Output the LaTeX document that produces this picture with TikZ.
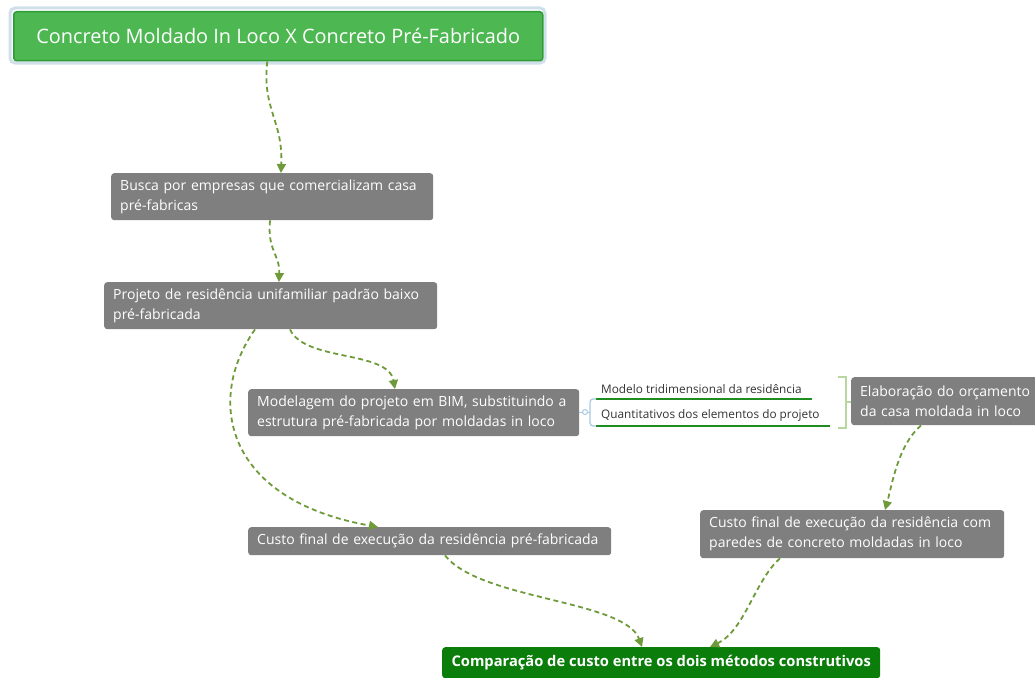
\documentclass[tikz,border=0pt]{standalone}
\usepackage{fontspec}
\setmainfont{Open Sans}
\usetikzlibrary{arrows.meta}
\definecolor{boxgray}{HTML}{7F7F7F}
\definecolor{titlegreen}{HTML}{4DB851}
\definecolor{titleborder}{HTML}{2F9B37}
\definecolor{glow}{HTML}{CFE0EA}
\definecolor{darkgreen}{HTML}{0B7D0B}
\definecolor{conn}{HTML}{6E9A3A}
\definecolor{subline}{HTML}{1E8C1E}
\definecolor{bracketblue}{HTML}{A8C8E0}
\definecolor{bracketgreen}{HTML}{B8D79E}
\definecolor{subtext}{HTML}{333333}
\tikzset{
  gbox/.style={fill=boxgray, rounded corners=3pt, text=white, anchor=north west,
    font=\fontsize{14}{20}\selectfont, align=left, inner xsep=9pt, inner ysep=0pt},
  conline/.style={draw=conn, line width=1.8pt, dash pattern=on 5pt off 3.5pt,
    -{Triangle[length=9pt,width=9pt]}},
  subtxt/.style={text=subtext, font=\fontsize{11.8}{14}\selectfont, anchor=base west, inner sep=0pt},
}
\begin{document}
\begin{tikzpicture}[x=1pt,y=-1pt]
\useasboundingbox (0,0) rectangle (1035,677);
% title
\draw[glow, line width=3pt, rounded corners=5pt] (10,8) rectangle (545,63);
\node[fill=titlegreen, draw=titleborder, line width=1.5pt, rounded corners=3pt,
  text=white, font=\fontsize{19.9}{24}\selectfont, minimum width=529pt, minimum height=49pt,
  anchor=north west, inner sep=0pt] (title) at (13,11) {Concreto Moldado In Loco X Concreto Pré-Fabricado};

\node[gbox, text width=304pt, minimum height=47pt] (busca) at (111,173)
  {Busca por empresas que comercializam casa\\pré-fabricas};
\node[gbox, text width=315pt, minimum height=47pt] (projeto) at (104,282)
  {Projeto de residência unifamiliar padrão baixo\\pré-fabricada};
\node[gbox, text width=313pt, minimum height=47pt] (modelagem) at (248,389)
  {Modelagem do projeto em BIM, substituindo a\\estrutura pré-fabricada por moldadas in loco};
\node[gbox, text width=345pt, minimum height=28pt] (custopre) at (248,527)
  {Custo final de execução da residência pré-fabricada};
\node[gbox, text width=180pt, minimum height=48pt] (elab) at (851,377)
  {Elaboração do orçamento\\da casa moldada in loco};
\node[gbox, text width=286pt, minimum height=48pt] (customold) at (700,510)
  {Custo final de execução da residência com\\paredes de concreto moldadas in loco};
\node[fill=darkgreen, rounded corners=3pt, text=white, anchor=north west,
  font=\fontsize{14.7}{18}\bfseries, minimum width=438pt, minimum height=31pt, inner sep=0pt]
  (comp) at (442,647) {Comparação de custo entre os dois métodos construtivos};

% subtopics
\node[subtxt] (modelo) at (601,393.5) {Modelo tridimensional da residência};
\node[subtxt] (quant) at (601,418.5) {Quantitativos dos elementos do projeto};
\coordinate (ml1) at (596,399);
\coordinate (mr1) at (812,399);
\coordinate (ml2) at (596,426);
\coordinate (mr2) at (830,426);
\draw[subline, line width=2pt] (ml1) -- (mr1);
\draw[subline, line width=2pt] (ml2) -- (mr2);
\coordinate (circ) at (585,412);
\draw[bracketblue, line width=1pt] (modelagem.east |- circ) -- ([xshift=-2.5pt]circ);
\draw[bracketblue, line width=1pt] (circ) circle (2.5pt);
\draw[bracketblue, line width=1.2pt, rounded corners=3pt] (ml1) -- (590,399) -- (590,426) -- (ml2);
\draw[bracketblue, line width=1pt] ([xshift=2.5pt]circ) -- (590,412);
% right bracket
\draw[bracketgreen, line width=2.5pt] (838,377) -- (846,377) -- (846,428) -- (838,428);
\draw[bracketgreen, line width=2.5pt] (846,402) -- (elab.west |- 0,402);

% connectors
\draw[conline] ([xshift=-11pt]title.south) .. controls (262,110) and (283,120) .. ([xshift=170pt]busca.north west);
\draw[conline] ([xshift=159pt]busca.south west) .. controls (267,250) and (280,255) .. ([xshift=175pt]projeto.north west);
\draw[conline] ([xshift=186pt]projeto.south west) .. controls (305,362) and (388,350) .. ([xshift=147pt]modelagem.north west);
\draw[conline] ([xshift=151pt]projeto.south west) .. controls (205,400) and (225,500) .. ([xshift=130pt]custopre.north west);
\draw[conline] ([xshift=197pt]custopre.south west) .. controls (480,600) and (625,600) .. ([xshift=200pt]comp.north west);
\draw[conline] ([xshift=70pt]elab.south west) .. controls (898,445) and (892,485) .. ([xshift=185pt]customold.north west);
\draw[conline] ([xshift=80pt]customold.south west) .. controls (755,580) and (745,630) .. ([xshift=268pt]comp.north west);
\end{tikzpicture}
\end{document}
